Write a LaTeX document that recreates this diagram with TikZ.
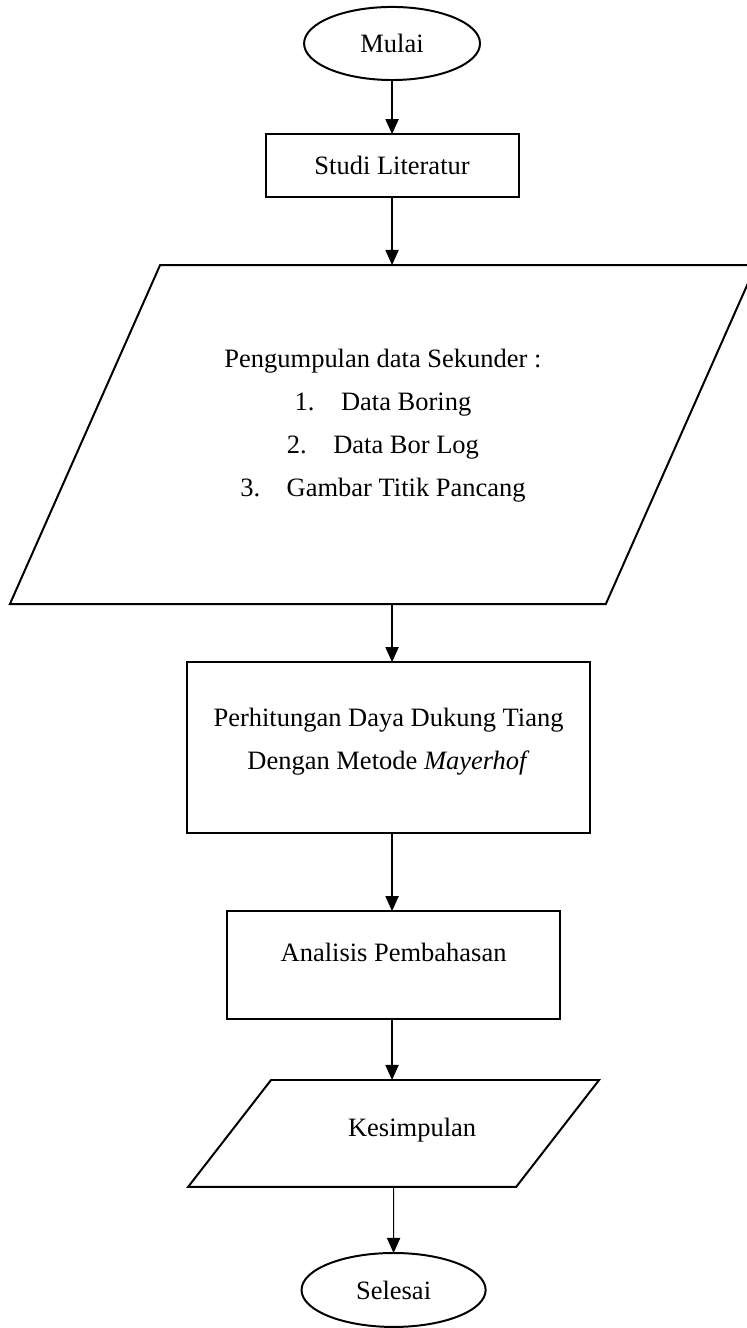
\documentclass[tikz,border=0pt]{standalone}
\usepackage{fontspec}
\setmainfont{Liberation Serif}
\usepackage{tikz}
\usetikzlibrary{shapes.geometric,positioning,arrows.meta}
\def\butir#1#2{#1.\quad #2}

\begin{document}
\begin{tikzpicture}[font=\fontsize{12pt}{19.5pt}\selectfont,%<<<
  every node/.style={line width=0.9pt,outer sep=0pt},
  term/.style={draw,ellipse,inner sep=0pt},
  proc/.style={draw,rectangle,align=center},
  io/.style={draw,trapezium,trapezium stretches body=true,align=center},
  arr/.style={-{Triangle[length=6.8pt,width=6pt]},line width=0.5pt}]
\useasboundingbox (0,0) rectangle (338pt,-601.6pt);
\node[term,minimum width=79.7pt,minimum height=33.1pt] (mulai) at (177.6pt,-19.7pt) {Mulai};
\node[proc,minimum width=114.6pt,minimum height=28.5pt,below=24.5pt of mulai] (studi) {Studi Literatur};
\node[io,trapezium left angle=66.1,trapezium right angle=113.9,text height=101.6pt,text depth=45.3pt,
  minimum width=338pt,below=30.8pt of studi,xshift=-4.1pt] (data)
  {Pengumpulan data Sekunder :\\ \butir{1}{Data Boring}\\ \butir{2}{Data Bor Log}\\
   \butir{3}{Gambar Titik Pancang}};
\node[proc,minimum width=182.6pt,minimum height=77.5pt,text depth=8pt,
  below=26.3pt of data,xshift=2.5pt] (hitung)
  {Perhitungan Daya Dukung Tiang\\ Dengan Metode \textit{Mayerhof}};
\node[proc,minimum width=150.8pt,minimum height=48.9pt,text depth=11.6pt,
  below=35.3pt of hitung,xshift=2.3pt] (analisis) {Analisis Pembahasan};
\node[io,trapezium left angle=52.2,trapezium right angle=127.8,text height=22.3pt,text depth=19.5pt,
  minimum width=186.2pt,below=27.6pt of analisis] (simpul)
  {\hspace*{16.8pt}Kesimpulan};
\node[term,minimum width=83.4pt,minimum height=33.5pt,below=29.9pt of simpul] (selesai) {Selesai};

\draw[arr] (mulai) -- (studi);
\draw[arr] (studi) -- (studi |- data.north);
\draw[arr] (data.south -| studi) -- (hitung.north -| studi);
\draw[arr] (hitung.south -| studi) -- (analisis.north -| studi);
\draw[arr] (analisis.south -| studi) -- (simpul.north -| studi);
\draw[arr] (simpul) -- (selesai);
\end{tikzpicture}
\end{document}
